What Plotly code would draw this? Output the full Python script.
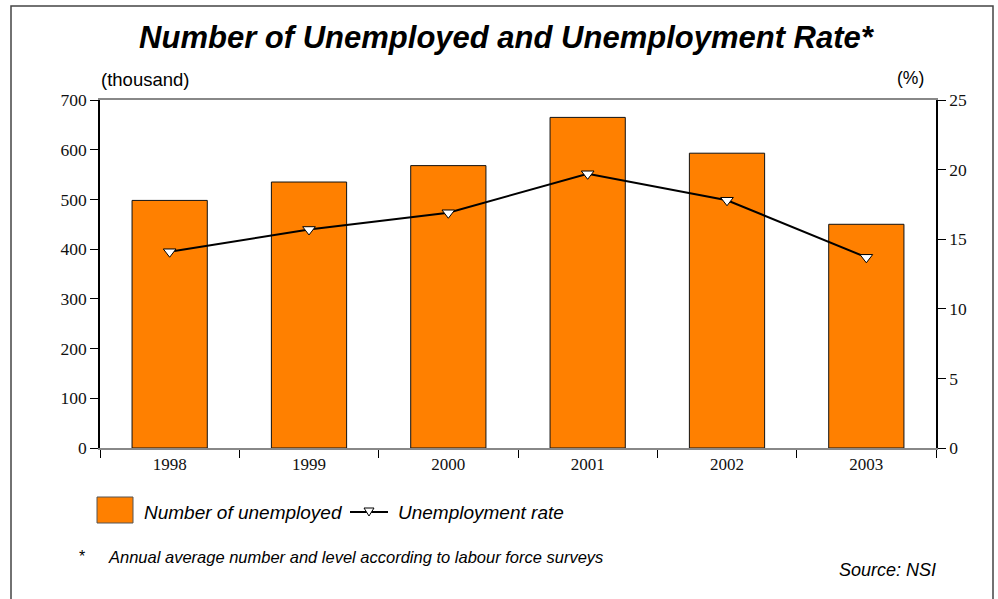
import plotly.graph_objects as go

# Annual averages, labour force survey
years = ["1998", "1999", "2000", "2001", "2002", "2003"]
unemployed_thousand = [498, 535, 568, 665, 593, 450]
unemployment_rate = [14.1, 15.7, 16.9, 19.7, 17.8, 13.7]

ORANGE = "#FF8000"
SERIF = "Liberation Serif, Times New Roman, serif"
SANS = "Liberation Sans, Arial, sans-serif"

fig = go.Figure()

fig.add_trace(go.Bar(
    x=years, y=unemployed_thousand, name="Number of unemployed",
    marker=dict(color=ORANGE, line=dict(color="#111111", width=1)),
    yaxis="y", showlegend=False,
))

fig.add_trace(go.Scatter(
    x=years, y=unemployment_rate, name="Unemployment rate",
    mode="lines+markers", yaxis="y2",
    line=dict(color="black", width=2),
    marker=dict(symbol="triangle-down", size=11, color="white",
                line=dict(color="black", width=1)),
    showlegend=False,
))

fig.update_layout(
    width=998, height=599,
    margin=dict(l=100, r=62, t=100, b=151),
    paper_bgcolor="white", plot_bgcolor="white",
    bargap=0.46,
    title=dict(
        text="<b><i>Number of Unemployed and Unemployment Rate*</i></b>",
        x=0.507, xanchor="center", y=0.938, yanchor="middle",
        font=dict(family=SANS, size=31, color="black"),
    ),
    xaxis=dict(
        type="category", tickson="boundaries", ticks="outside", ticklen=8,
        tickcolor="black", showline=True, linecolor="#888888", linewidth=1.5,
        mirror=True, showgrid=False,
        tickfont=dict(family=SERIF, size=17, color="#111111"),
    ),
    yaxis=dict(
        range=[0, 700], dtick=100, ticks="outside", ticklen=8,
        tickcolor="black", showline=True, linecolor="black", linewidth=1.5,
        showgrid=False, zeroline=False,
        tickfont=dict(family=SERIF, size=17.5, color="#111111"),
    ),
    yaxis2=dict(
        range=[0, 25], dtick=5, overlaying="y", side="right",
        ticks="outside", ticklen=8, tickcolor="black",
        showline=True, linecolor="black", linewidth=1.5,
        showgrid=False, zeroline=False,
        tickfont=dict(family=SERIF, size=17.5, color="#111111"),
    ),
)

# Paper coordinates: plot area spans 836 px wide, 348 px tall
def px_x(p):
    return (p - 100) / 836.0

def px_y(p):
    return (448 - p) / 348.0

shapes = [
    # outer frame
    dict(type="rect", xref="paper", yref="paper",
         x0=px_x(11), x1=px_x(993), y0=px_y(620), y1=px_y(6),
         line=dict(color="#444444", width=1.5), fillcolor="rgba(0,0,0,0)"),
    # legend: bar swatch
    dict(type="rect", xref="paper", yref="paper",
         x0=px_x(97), x1=px_x(133), y0=px_y(523), y1=px_y(497),
         line=dict(color="#555555", width=1), fillcolor=ORANGE),
    # legend: line sample
    dict(type="line", xref="paper", yref="paper",
         x0=px_x(350), x1=px_x(388), y0=px_y(512), y1=px_y(512),
         line=dict(color="black", width=2)),
    # legend: triangle marker
    dict(type="path", xref="paper", yref="paper",
         path=("M {a},{t} L {b},{t} L {c},{bt} Z".format(
             a=px_x(364), b=px_x(374), c=px_x(369), t=px_y(508), bt=px_y(516))),
         line=dict(color="black", width=1), fillcolor="white"),
]

annotations = [
    dict(text="(thousand)", xref="paper", yref="paper", x=px_x(99), y=px_y(80),
         xanchor="left", yanchor="middle", showarrow=False,
         font=dict(family=SANS, size=18.5, color="black")),
    dict(text="(%)", xref="paper", yref="paper", x=px_x(910), y=px_y(78),
         xanchor="center", yanchor="middle", showarrow=False,
         font=dict(family=SANS, size=17.5, color="black")),
    dict(text="<i>Number of unemployed</i>", xref="paper", yref="paper",
         x=px_x(142), y=px_y(512), xanchor="left", yanchor="middle",
         showarrow=False, font=dict(family=SANS, size=19, color="black")),
    dict(text="<i>Unemployment rate</i>", xref="paper", yref="paper",
         x=px_x(396), y=px_y(512), xanchor="left", yanchor="middle",
         showarrow=False, font=dict(family=SANS, size=19, color="black")),
    dict(text="*", xref="paper", yref="paper", x=px_x(82), y=px_y(556),
         xanchor="center", yanchor="middle", showarrow=False,
         font=dict(family=SANS, size=16, color="black")),
    dict(text="<i>Annual average number and level according to labour force surveys</i>",
         xref="paper", yref="paper", x=px_x(106), y=px_y(557),
         xanchor="left", yanchor="middle", showarrow=False,
         font=dict(family=SANS, size=16.5, color="black")),
    dict(text="<i>Source: NSI</i>", xref="paper", yref="paper",
         x=px_x(837), y=px_y(570), xanchor="left", yanchor="middle",
         showarrow=False, font=dict(family=SANS, size=18, color="black")),
]

fig.update_layout(shapes=shapes, annotations=annotations)

fig.write_html("out.html")
